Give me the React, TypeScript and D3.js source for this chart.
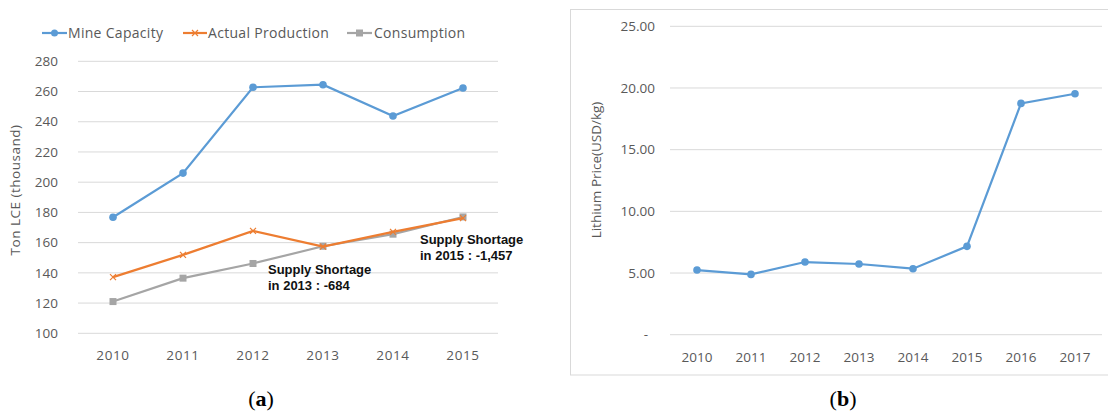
import React from "react";
import * as d3 from "d3";

const yearsA = ["2010", "2011", "2012", "2013", "2014", "2015"];
const mineCapacity = [176.8, 206, 262.8, 264.5, 243.8, 262.3];
const actualProduction = [137.2, 151.9, 167.8, 157.4, 167.1, 176.2];
const consumption = [121, 136.5, 146.2, 157.6, 165.6, 177];
const ticksA = [100, 120, 140, 160, 180, 200, 220, 240, 260, 280];

const yearsB = ["2010", "2011", "2012", "2013", "2014", "2015", "2016", "2017"];
const lithiumPrice = [5.24, 4.89, 5.89, 5.73, 5.35, 7.16, 18.75, 19.53];
const ticksB = [0, 5, 10, 15, 20, 25];

const BLUE = "#5B9BD5";
const ORANGE = "#ED7D31";
const GRAY = "#A5A5A5";
const GRID = "#D9D9D9";
const TXT = "#595959";
const FONT = "'Open Sans', 'Noto Sans', sans-serif";

export default function App() {
  const xA = d3.scaleBand<string>().domain(yearsA).range([78, 498]);
  const yA = d3.scaleLinear().domain([100, 280]).range([333.3, 61.3]);
  const cxA = (y: string) => (xA(y) ?? 0) + xA.bandwidth() / 2;
  const lineA = (vals: number[]) =>
    d3.line<number>().x((_, i) => cxA(yearsA[i])).y((v) => yA(v))(vals) ?? "";

  const xB = d3.scaleBand<string>().domain(yearsB).range([670, 1102]);
  const yB = d3.scaleLinear().domain([0, 25]).range([334.7, 26.3]);
  const cxB = (y: string) => (xB(y) ?? 0) + xB.bandwidth() / 2;
  const lineB =
    d3.line<number>().x((_, i) => cxB(yearsB[i])).y((v) => yB(v))(lithiumPrice) ?? "";

  const cross = (x: number, y: number, k: string) => (
    <path
      key={k}
      d={`M${x - 3},${y - 3}L${x + 3},${y + 3}M${x - 3},${y + 3}L${x + 3},${y - 3}`}
      stroke={ORANGE}
      strokeWidth={1.2}
    />
  );

  return (
    <svg
      width={1108}
      height={412}
      style={{ position: "absolute", left: 0, top: 0, background: "#fff" }}
      fontFamily={FONT}
    >
      <rect x={0} y={0} width={1108} height={412} fill="#fff" />
      {/* Panel A */}
      {ticksA.map((t) => (
        <g key={"ga" + t}>
          <line x1={78} x2={498} y1={yA(t)} y2={yA(t)} stroke={GRID} strokeWidth={1} />
          <text x={58} y={yA(t)} dy="0.35em" textAnchor="end" fontSize={13.5} fill={TXT}>
            {t}
          </text>
        </g>
      ))}
      {yearsA.map((y) => (
        <text key={"xa" + y} x={cxA(y)} y={355} dy="0.35em" textAnchor="middle" fontSize={13.5} letterSpacing={0.6} fill={TXT}>
          {y}
        </text>
      ))}
      <text
        transform={`translate(15,190) rotate(-90)`}
        textAnchor="middle"
        dy="0.35em"
        fontSize={13.5}
        letterSpacing={0.5}
        fill={TXT}
      >
        Ton LCE (thousand)
      </text>

      <path d={lineA(consumption)} fill="none" stroke={GRAY} strokeWidth={2.2} />
      {consumption.map((v, i) => (
        <rect key={"cs" + i} x={cxA(yearsA[i]) - 3.5} y={yA(v) - 3.5} width={7} height={7} fill={GRAY} />
      ))}
      <path d={lineA(actualProduction)} fill="none" stroke={ORANGE} strokeWidth={2.2} />
      {actualProduction.map((v, i) => cross(cxA(yearsA[i]), yA(v), "ap" + i))}
      <path d={lineA(mineCapacity)} fill="none" stroke={BLUE} strokeWidth={2.2} />
      {mineCapacity.map((v, i) => (
        <circle key={"mc" + i} cx={cxA(yearsA[i])} cy={yA(v)} r={3.8} fill={BLUE} />
      ))}

      {/* Legend */}
      <g fontSize={14} letterSpacing={0.3}>
        <line x1={42} x2={67} y1={33} y2={33} stroke={BLUE} strokeWidth={2.2} />
        <circle cx={54.5} cy={33} r={3.5} fill={BLUE} />
        <text x={68} y={33} dy="0.35em" fill={TXT}>Mine Capacity</text>
        <line x1={183} x2={207} y1={33} y2={33} stroke={ORANGE} strokeWidth={2.2} />
        {cross(195, 33, "lgx")}
        <text x={208} y={33} dy="0.35em" fill={TXT}>Actual Production</text>
        <line x1={347} x2={372} y1={33} y2={33} stroke={GRAY} strokeWidth={2.2} />
        <rect x={356} y={29.5} width={7} height={7} fill={GRAY} />
        <text x={374} y={33} dy="0.35em" fill={TXT}>Consumption</text>
      </g>

      {/* Annotations */}
      <g fontWeight="bold" fontSize={13} fontFamily="'Liberation Sans', Arial, sans-serif" fill="#111">
        <text x={268} y={273.5}>Supply Shortage</text>
        <text x={268} y={289.5}>in 2013 : -684</text>
        <text x={420} y={243.5}>Supply Shortage</text>
        <text x={420} y={259.5}>in 2015 : -1,457</text>
      </g>

      {/* Panel B */}
      <rect x={570.5} y={9.5} width={560} height={365.5} fill="none" stroke={GRID} strokeWidth={1} />
      {ticksB.map((t) => (
        <g key={"gb" + t}>
          <line x1={670} x2={1102} y1={yB(t)} y2={yB(t)} stroke={GRID} strokeWidth={1} />
          <text
            x={t === 0 ? 648 : 655}
            y={yB(t)}
            dy="0.35em"
            textAnchor="end"
            fontSize={13.5}
            fill={TXT}
          >
            {t === 0 ? "-" : t.toFixed(2)}
          </text>
        </g>
      ))}
      {yearsB.map((y) => (
        <text key={"xb" + y} x={cxB(y)} y={357} dy="0.35em" textAnchor="middle" fontSize={13.5} fill={TXT}>
          {y}
        </text>
      ))}
      <text
        transform={`translate(596,170) rotate(-90)`}
        textAnchor="middle"
        dy="0.35em"
        fontSize={13.5}
        fill={TXT}
      >
        Lithium Price(USD/kg)
      </text>
      <path d={lineB} fill="none" stroke={BLUE} strokeWidth={2.2} />
      {lithiumPrice.map((v, i) => (
        <circle key={"lp" + i} cx={cxB(yearsB[i])} cy={yB(v)} r={3.8} fill={BLUE} />
      ))}

      {/* Captions */}
      <text x={261} y={398} dy="0.35em" textAnchor="middle" fontSize={22} fontFamily="'Liberation Serif', serif" fill="#000">
        (<tspan fontWeight="bold">a</tspan>)
      </text>
      <text x={843} y={398} dy="0.35em" textAnchor="middle" fontSize={22} fontFamily="'Liberation Serif', serif" fill="#000">
        (<tspan fontWeight="bold">b</tspan>)
      </text>
    </svg>
  );
}
